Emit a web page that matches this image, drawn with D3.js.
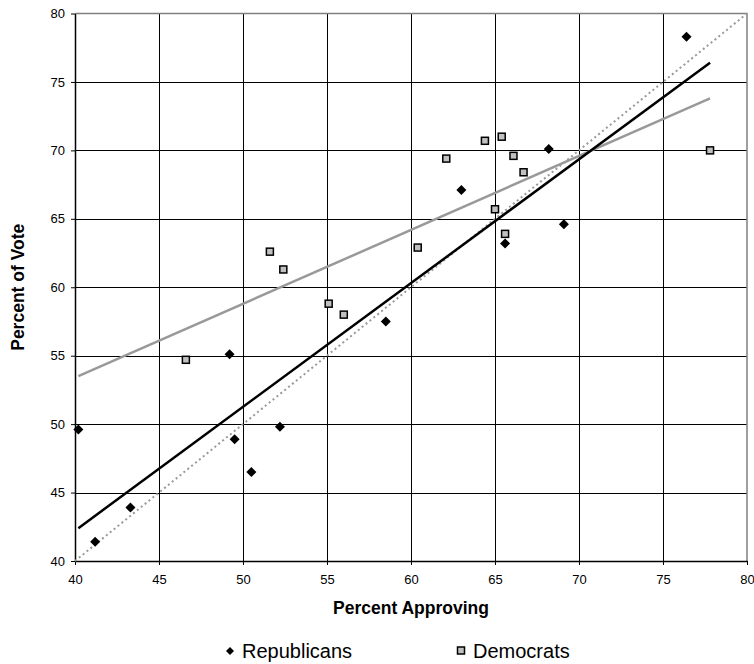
<!DOCTYPE html>
<html>
<head>
<meta charset="utf-8">
<script src="https://cdn.jsdelivr.net/npm/d3@7"></script>
<style>
  body { margin: 0; background: #fff; }
  svg { font-family: "Liberation Sans", Arial, sans-serif; }
</style>
</head>
<body>
<div id="chart"></div>
<script>
// values
var repApproval = [40.2, 41.2, 43.3, 49.2, 49.5, 50.5, 52.2, 58.5, 63.0, 65.6, 68.2, 69.1, 76.4];
var repVote     = [49.6, 41.4, 43.9, 55.1, 48.9, 46.5, 49.8, 57.5, 67.1, 63.2, 70.1, 64.6, 78.3];

var demApproval = [46.6, 51.6, 52.4, 55.1, 56.0, 60.4, 62.1, 64.4, 65.0, 65.4, 65.6, 66.1, 66.7, 77.8];
var demVote     = [54.7, 62.6, 61.3, 58.8, 58.0, 62.9, 69.4, 70.7, 65.7, 71.0, 63.9, 69.6, 68.4, 70.0];

// trend line end points (x, y) as drawn in the picture
var repTrend = [[40.2, 42.4], [77.8, 76.4]];
var demTrend = [[40.2, 53.5], [77.8, 73.8]];
var equalLine = [[40, 40], [80, 80]];

var xTicks = [40, 45, 50, 55, 60, 65, 70, 75, 80];
var yTicks = [40, 45, 50, 55, 60, 65, 70, 75, 80];

function init() {
    var w = 754;
    var h = 664;

    var svg = d3.select("#chart")
        .append("svg")
        .attr("width", w)
        .attr("height", h);

    var xScale = d3.scaleLinear().domain([40, 80]).range([75, 747]);
    var yScale = d3.scaleLinear().domain([40, 80]).range([561, 13.5]);

    // gridlines
    svg.append("g")
        .selectAll("line.hgrid")
        .data(yTicks.slice(1, -1))
        .enter()
        .append("line")
        .attr("x1", xScale(40)).attr("x2", xScale(80))
        .attr("y1", function(d) { return Math.round(yScale(d)) + 0.5; })
        .attr("y2", function(d) { return Math.round(yScale(d)) + 0.5; })
        .attr("stroke", "#000")
        .attr("stroke-width", 1);

    svg.append("g")
        .selectAll("line.vgrid")
        .data(xTicks.slice(1, -1))
        .enter()
        .append("line")
        .attr("y1", yScale(40)).attr("y2", yScale(80))
        .attr("x1", function(d) { return Math.round(xScale(d)) + 0.5; })
        .attr("x2", function(d) { return Math.round(xScale(d)) + 0.5; })
        .attr("stroke", "#000")
        .attr("stroke-width", 1);

    // top and right border
    svg.append("path")
        .attr("d", "M" + xScale(40) + "," + yScale(80) + "H" + xScale(80) + "V" + yScale(40))
        .attr("fill", "none")
        .attr("stroke", "#808080")
        .attr("stroke-width", 1.5);

    // axes
    var xAxis = svg.append("g")
        .attr("transform", "translate(0," + yScale(40) + ")")
        .call(d3.axisBottom(xScale).tickValues(xTicks).tickSize(4).tickPadding(10).tickSizeOuter(0));
    var yAxis = svg.append("g")
        .attr("transform", "translate(" + xScale(40) + ",0)")
        .call(d3.axisLeft(yScale).tickValues(yTicks).tickSize(4).tickPadding(6).tickSizeOuter(0));

    [xAxis, yAxis].forEach(function(a) {
        a.select(".domain").attr("stroke", "#000").attr("stroke-width", 1.5);
        a.selectAll(".tick line").attr("stroke", "#000");
        a.selectAll(".tick text")
            .attr("font-size", 13)
            .attr("font-family", "Liberation Sans, Arial, sans-serif")
            .attr("fill", "#000");
    });

    var line = d3.line()
        .x(function(d) { return xScale(d[0]); })
        .y(function(d) { return yScale(d[1]); });

    svg.append("path")
        .attr("d", line(equalLine))
        .attr("fill", "none")
        .attr("stroke", "#999")
        .attr("stroke-width", 2)
        .attr("stroke-dasharray", "2,3");

    svg.append("path")
        .attr("d", line(demTrend))
        .attr("fill", "none")
        .attr("stroke", "#999")
        .attr("stroke-width", 2.5);

    svg.append("path")
        .attr("d", line(repTrend))
        .attr("fill", "none")
        .attr("stroke", "#000")
        .attr("stroke-width", 2.5);

    // democrats: gray squares
    svg.append("g")
        .selectAll("rect")
        .data(demApproval)
        .enter()
        .append("rect")
        .attr("x", function(d) { return xScale(d) - 3.5; })
        .attr("y", function(d, i) { return yScale(demVote[i]) - 3.5; })
        .attr("width", 7)
        .attr("height", 7)
        .attr("fill", "#c0c0c0")
        .attr("stroke", "#000")
        .attr("stroke-width", 1.5);

    // republicans: black diamonds
    svg.append("g")
        .selectAll("path")
        .data(repApproval)
        .enter()
        .append("path")
        .attr("d", "M0,-5L5,0L0,5L-5,0Z")
        .attr("transform", function(d, i) {
            return "translate(" + xScale(d) + "," + yScale(repVote[i]) + ")";
        })
        .attr("fill", "#000");

    // axis titles
    svg.append("text")
        .attr("x", (xScale(40) + xScale(80)) / 2)
        .attr("y", 614)
        .attr("text-anchor", "middle")
        .attr("font-size", 17.5)
        .attr("font-weight", "bold")
        .text("Percent Approving");

    svg.append("text")
        .attr("transform", "translate(24," + (yScale(40) + yScale(80)) / 2 + ") rotate(-90)")
        .attr("text-anchor", "middle")
        .attr("font-size", 17.5)
        .attr("font-weight", "bold")
        .text("Percent of Vote");

    // legend
    var legend = svg.append("g");
    legend.append("path")
        .attr("d", "M0,-4L4,0L0,4L-4,0Z")
        .attr("transform", "translate(230,651)")
        .attr("fill", "#000");
    legend.append("text")
        .attr("x", 242).attr("y", 658)
        .attr("font-size", 20)
        .text("Republicans");
    legend.append("rect")
        .attr("x", 457.5).attr("y", 647)
        .attr("width", 7).attr("height", 7)
        .attr("fill", "#c0c0c0")
        .attr("stroke", "#000")
        .attr("stroke-width", 1.5);
    legend.append("text")
        .attr("x", 473).attr("y", 658)
        .attr("font-size", 20)
        .text("Democrats");
}

window.onload = init;
</script>
</body>
</html>
